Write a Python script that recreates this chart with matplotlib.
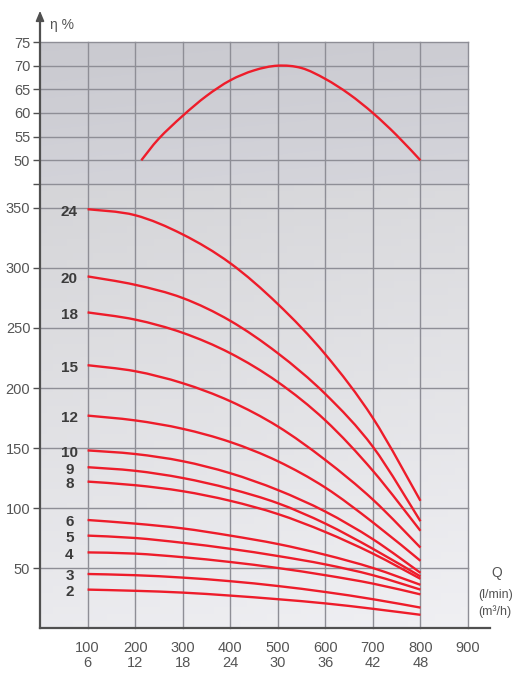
import numpy as np
import matplotlib
matplotlib.use("Agg")
import matplotlib.pyplot as plt
from matplotlib.lines import Line2D
from matplotlib.path import Path
from matplotlib.patches import PathPatch

# Flow rate (l/min) and matching m3/h labels
q_ticks = [100, 200, 300, 400, 500, 600, 700, 800, 900]
m3h_labels = ["6", "12", "18", "24", "30", "36", "42", "48", ""]

# Head curves (m) per number of stages, read at 100..800 l/min
q_head = [100, 200, 300, 400, 500, 600, 700, 800]
stages = [24, 20, 18, 15, 12, 10, 9, 8, 6, 5, 4, 3, 2]
head_24 = [349, 344, 328, 304, 270, 228, 175, 106]
head_20 = [293, 286, 275, 256, 229, 195, 151, 89]
head_18 = [263, 257, 246, 229, 205, 173, 131, 81]
head_15 = [219, 214, 204, 189, 168, 140, 107, 67]
head_12 = [177, 173, 166, 155, 139, 117, 88, 56]
head_10 = [148, 145, 139, 129, 115, 97, 74, 46]
head_9 = [134, 131, 125, 116, 104, 87, 66, 43]
head_8 = [122, 119, 114, 106, 95, 80, 62, 41]
head_6 = [90, 87, 83, 77, 70, 61, 50, 36]
head_5 = [77, 75, 71, 66, 60, 53, 44, 32]
head_4 = [63, 62, 59, 55, 50, 44, 37, 28]
head_3 = [45, 44, 42, 39, 35, 30, 24, 17]
head_2 = [32, 31, 29.5, 27, 24, 20.5, 16, 11]
heads = [head_24, head_20, head_18, head_15, head_12, head_10, head_9,
         head_8, head_6, head_5, head_4, head_3, head_2]

# Efficiency curve (%)
q_eff = [213, 250, 300, 350, 400, 450, 500, 550, 600, 650, 700, 750, 800]
eff = [50, 54.6, 59.4, 63.6, 66.9, 69.0, 70, 69.5, 67.2, 64.0, 60, 55.3, 50]

eff_ticks = [45, 50, 55, 60, 65, 70, 75]
head_ticks = [50, 100, 150, 200, 250, 300, 350]

W, H = 513, 675
RED = "#ee1c2a"
GRID = "#8e8e96"
AXIS = "#505050"
TXT = "#555555"
plt.rcParams["font.family"] = ["Liberation Sans Narrow", "Liberation Sans", "DejaVu Sans"]


def px_rect(x0, y0, x1, y1):
    return [x0 / W, 1 - y1 / H, (x1 - x0) / W, (y1 - y0) / H]


def smooth_line(ax, xs, ys, **kw):
    # draw a smooth curve through the read points (Catmull-Rom as Bezier)
    pts = np.column_stack([xs, ys]).astype(float)
    verts = [pts[0]]
    codes = [Path.MOVETO]
    n = len(pts)
    for i in range(n - 1):
        p0 = pts[i - 1] if i > 0 else pts[i]
        p1, p2 = pts[i], pts[i + 1]
        p3 = pts[i + 2] if i + 2 < n else pts[i + 1]
        verts += [p1 + (p2 - p0) / 6, p2 - (p3 - p1) / 6, p2]
        codes += [Path.CURVE4] * 3
    ax.add_patch(PathPatch(Path(verts, codes), fill=False, **kw))


fig = plt.figure(figsize=(W / 100, H / 100), dpi=100)
ax_h = fig.add_axes(px_rect(40, 184, 468, 628))
ax_e = fig.add_axes(px_rect(40, 42, 468, 184), sharex=ax_h)

ax_h.set_xlim(0, 900)
ax_h.set_ylim(0, 370)
ax_e.set_ylim(45, 75)

# grey backgrounds
yy = np.linspace(0, 1, 64)[:, None]
xx = np.linspace(0, 1, 64)[None, :]
low = 0.835 + 0.085 * yy + 0.02 * xx
ax_h.imshow(np.dstack([low, low, low * 1.015]).clip(0, 1), extent=[0, 900, 0, 370],
            aspect="auto", zorder=-1, origin="upper")
top = 0.79 + 0.035 * yy + 0.01 * xx
ax_e.imshow(np.dstack([top, top, top * 1.03]).clip(0, 1), extent=[0, 900, 45, 75],
            aspect="auto", zorder=-1, origin="upper")

for ax in (ax_h, ax_e):
    for s in ax.spines.values():
        s.set_visible(False)
    ax.set_axisbelow(True)
    ax.set_xticks(q_ticks)
    ax.tick_params(axis="y", direction="out", length=5, width=1, color=AXIS,
                   labelsize=10.5, labelcolor=TXT, pad=2)
    ax.tick_params(axis="x", length=0, labelsize=10.5, labelcolor=TXT, pad=9)

ax_e.tick_params(axis="x", labelbottom=False)
ax_e.set_yticks(eff_ticks)
ax_e.set_yticklabels([""] + [str(v) for v in eff_ticks[1:]])
ax_h.set_yticks(head_ticks)
ax_h.set_yticklabels([str(v) for v in head_ticks])
ax_h.set_xticklabels([f"{q}\n{m}" for q, m in zip(q_ticks, m3h_labels)],
                     linespacing=1.15)

for ax in (ax_h, ax_e):
    ax.grid(True, color=GRID, linewidth=1.0)
    for gl in ax.get_ygridlines() + ax.get_xgridlines():
        gl.set_clip_on(False)

# head curves and stage labels
for n, hv in zip(stages, heads):
    smooth_line(ax_h, q_head, hv, edgecolor=RED, linewidth=1.7)
    ax_h.text(62, hv[0] - 2, str(n), ha="center", va="center", fontsize=11,
              fontweight="bold", color="#3c3c3c")

smooth_line(ax_e, q_eff, eff, edgecolor=RED, linewidth=1.7)

# axis lines
fig.add_artist(Line2D([40 / W, 490 / W], [1 - 628 / H, 1 - 628 / H],
                      color=AXIS, linewidth=1.6, transform=fig.transFigure))
fig.add_artist(Line2D([40 / W, 40 / W], [1 - 628 / H, 1 - 16 / H],
                      color=AXIS, linewidth=1.6, transform=fig.transFigure))
ax_e.annotate("", xy=(40 / W, 1 - 8 / H), xytext=(40 / W, 1 - 20 / H),
              xycoords="figure fraction", textcoords="figure fraction",
              arrowprops=dict(arrowstyle="-|>,head_width=0.25,head_length=0.6",
                              color=AXIS, lw=1.2))
fig.text(50 / W, 1 - 25 / H, "η %", fontsize=10, color=TXT, va="center", ha="left")

fig.text(497 / W, 1 - 573 / H, "Q", fontsize=10, color=TXT, ha="center", va="center")
fig.text(478 / W, 1 - 595 / H, "(l/min)", fontsize=9, color=TXT, ha="left", va="center")
fig.text(478 / W, 1 - 612 / H, "(m³/h)", fontsize=9, color=TXT, ha="left", va="center")

fig.savefig("out.png", dpi=100, facecolor="white")
